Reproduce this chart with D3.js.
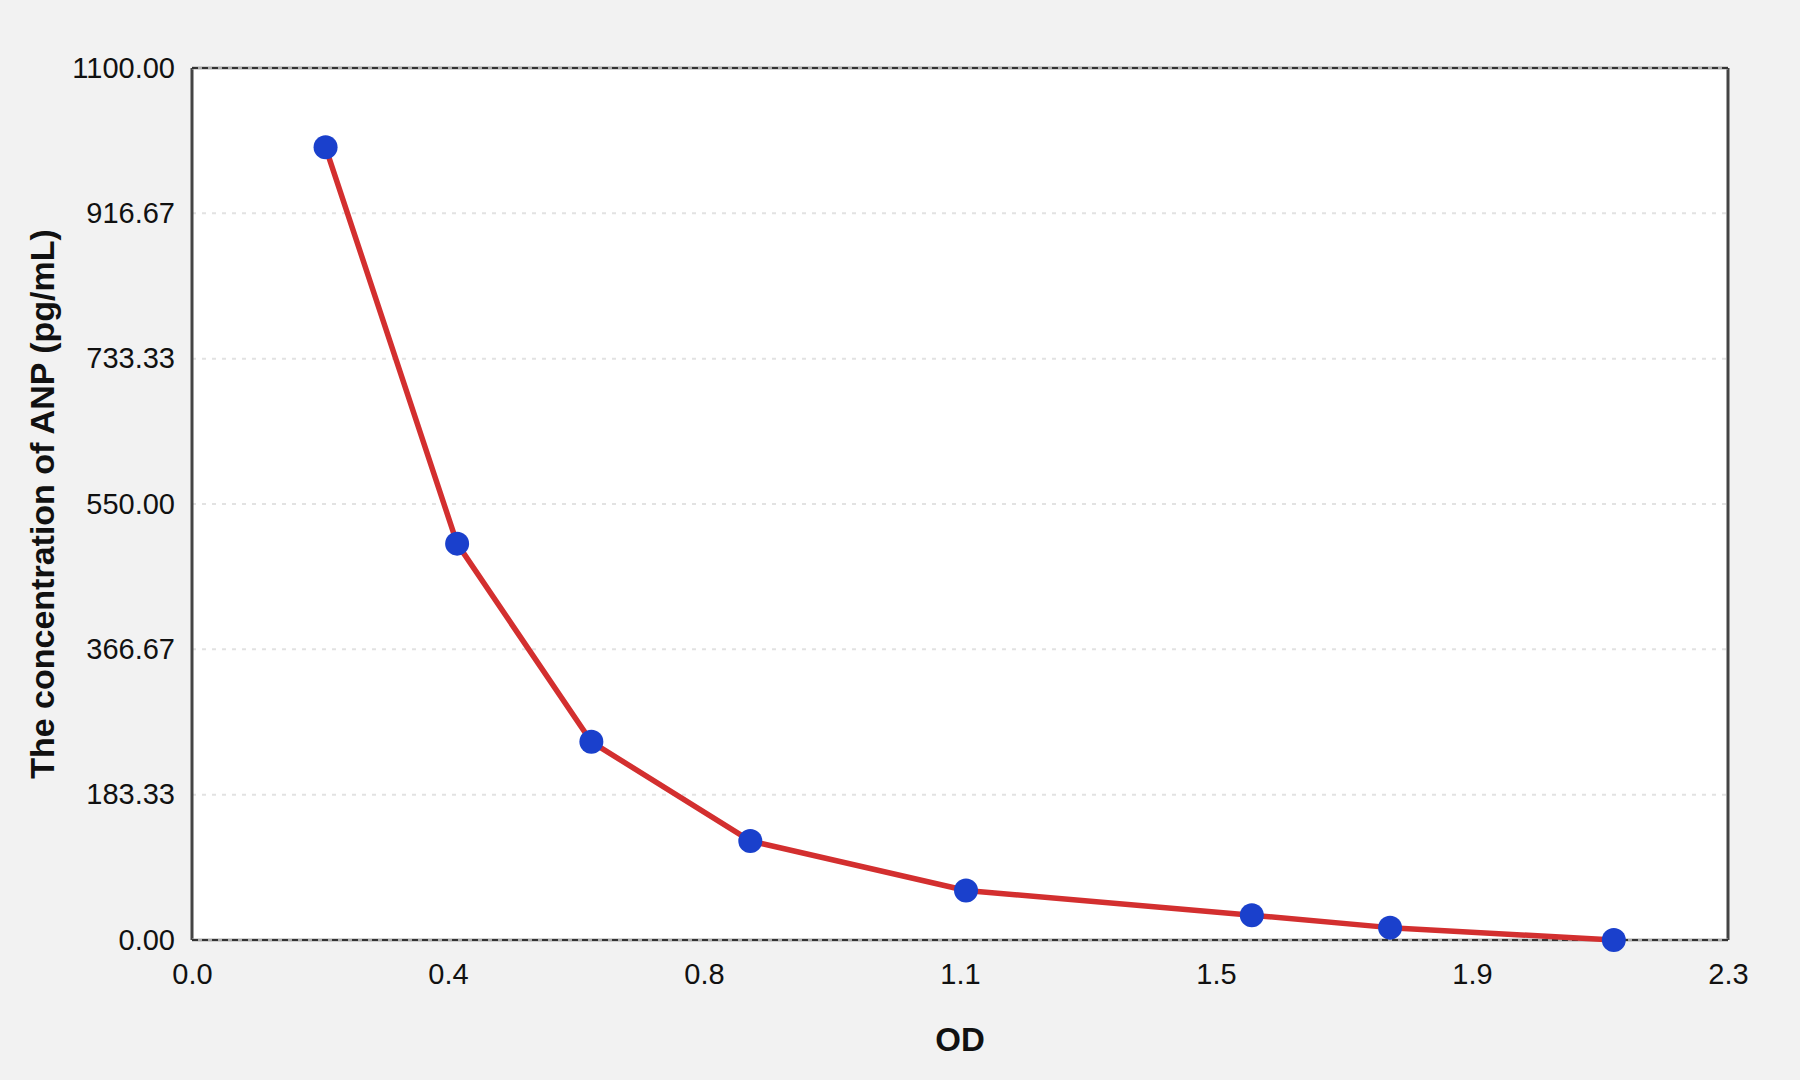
<!DOCTYPE html>
<html>
<head>
<meta charset="utf-8">
<script src="https://cdn.jsdelivr.net/npm/d3@7"></script>
<style>
  html, body { margin: 0; padding: 0; background: #f2f2f2; }
  svg { display: block; font-family: "Liberation Sans", Arial, Helvetica, sans-serif; }
</style>
</head>
<body>
<div class="chart"></div>
<script>
var width = 1800,
    height = 1080;

var margin = { top: 68, right: 72, bottom: 140, left: 192 };

// standard curve points
var od = [0.2, 0.397, 0.598, 0.836, 1.159, 1.587, 1.794, 2.129];
var conc = [1000, 500, 250, 125, 62.5, 31.25, 15.6, 0];

var xTickValues = [0, 0.3833, 0.7667, 1.15, 1.5333, 1.9167, 2.3];
var xTickLabels = ["0.0", "0.4", "0.8", "1.1", "1.5", "1.9", "2.3"];
var yTickValues = [0, 183.33, 366.67, 550, 733.33, 916.67, 1100];
var yTickLabels = ["0.00", "183.33", "366.67", "550.00", "733.33", "916.67", "1100.00"];

var plotW = width - margin.left - margin.right,
    plotH = height - margin.top - margin.bottom;

var svg = d3.select(".chart")
  .append("svg")
    .attr("width", width)
    .attr("height", height);

svg.append("rect")
  .attr("width", width)
  .attr("height", height)
  .attr("fill", "#f2f2f2");

var g = svg.append("g")
  .attr("transform", "translate(" + margin.left + "," + margin.top + ")");

var x = d3.scaleLinear().domain([0, 2.3]).range([0, plotW]);
var y = d3.scaleLinear().domain([0, 1100]).range([plotH, 0]);

// plot background
g.append("rect")
  .attr("width", plotW)
  .attr("height", plotH)
  .attr("fill", "#fff");

// horizontal grid lines
g.selectAll(".grid")
  .data(yTickValues.slice(1, -1))
  .enter()
  .append("line")
  .attr("class", "grid")
  .attr("x1", 0)
  .attr("x2", plotW)
  .attr("y1", function(d) { return y(d); })
  .attr("y2", function(d) { return y(d); })
  .attr("stroke", "#e2e2e2")
  .attr("stroke-width", 2)
  .attr("stroke-dasharray", "4,6");

// axes (labels only, lines drawn as frame below)
var yAxis = d3.axisLeft(y)
  .tickValues(yTickValues)
  .tickSize(0)
  .tickPadding(17)
  .tickFormat(function(d, i) { return yTickLabels[i]; });

var xAxis = d3.axisBottom(x)
  .tickValues(xTickValues)
  .tickSize(0)
  .tickPadding(23)
  .tickFormat(function(d, i) { return xTickLabels[i]; });

var gy = g.append("g").call(yAxis);
var gx = g.append("g").attr("transform", "translate(0," + plotH + ")").call(xAxis);

[gx, gy].forEach(function(a) {
  a.select(".domain").remove();
  a.selectAll("text")
    .attr("fill", "#111")
    .style("font-size", "29px")
    .style("font-family", '"Liberation Sans", Arial, Helvetica, sans-serif');
});

// frame: solid sides, dashed top and bottom
g.append("line")
  .attr("x1", 0).attr("x2", 0).attr("y1", 0).attr("y2", plotH)
  .attr("stroke", "#444").attr("stroke-width", 3);
g.append("line")
  .attr("x1", plotW).attr("x2", plotW).attr("y1", 0).attr("y2", plotH)
  .attr("stroke", "#444").attr("stroke-width", 3);

[0, plotH].forEach(function(yy) {
  g.append("line")
    .attr("x1", 0).attr("x2", plotW).attr("y1", yy).attr("y2", yy)
    .attr("stroke", "#aaa").attr("stroke-width", 3);
  g.append("line")
    .attr("x1", 0).attr("x2", plotW).attr("y1", yy).attr("y2", yy)
    .attr("stroke", "#333").attr("stroke-width", 2)
    .attr("stroke-dasharray", "6,4");
});

// curve
var line = d3.line()
  .x(function(d) { return x(d[0]); })
  .y(function(d) { return y(d[1]); });

var pts = od.map(function(v, i) { return [v, conc[i]]; });

g.append("path")
  .datum(pts)
  .attr("d", line)
  .attr("fill", "none")
  .attr("stroke", "#d32f2f")
  .attr("stroke-width", 5.5)
  .attr("stroke-linejoin", "round");

g.selectAll(".dot")
  .data(pts)
  .enter()
  .append("circle")
  .attr("class", "dot")
  .attr("cx", function(d) { return x(d[0]); })
  .attr("cy", function(d) { return y(d[1]); })
  .attr("r", 12)
  .attr("fill", "#1a40cc");

// axis titles
svg.append("text")
  .attr("x", margin.left + plotW / 2)
  .attr("y", 1051)
  .attr("text-anchor", "middle")
  .style("font-size", "33px")
  .style("font-weight", "bold")
  .attr("fill", "#111")
  .text("OD");

svg.append("text")
  .attr("transform", "translate(54," + (margin.top + plotH / 2) + ") rotate(-90)")
  .attr("text-anchor", "middle")
  .style("font-size", "34px")
  .style("font-weight", "bold")
  .attr("fill", "#111")
  .text("The concentration of ANP (pg/mL)");
</script>
</body>
</html>
